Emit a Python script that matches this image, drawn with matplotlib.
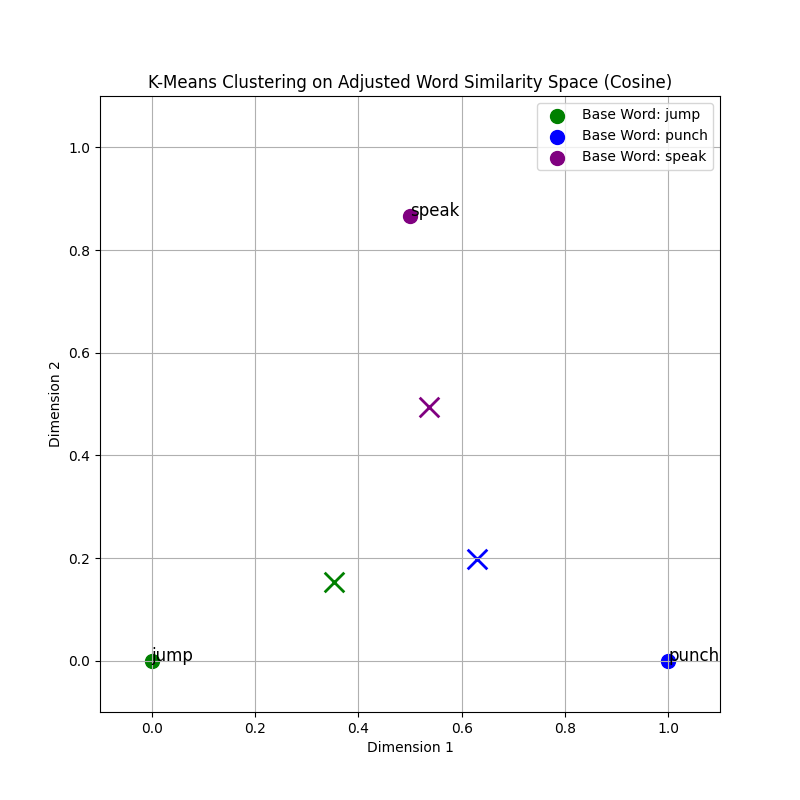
import matplotlib
matplotlib.use("Agg")
import matplotlib.pyplot as plt

words = ["jump", "punch", "speak"]
word_x = [0.0, 1.0, 0.5]
word_y = [0.0, 0.0, 0.866]
colors = ["green", "blue", "purple"]
centroid_x = [0.3535, 0.630, 0.537]
centroid_y = [0.153, 0.198, 0.495]

fig, ax = plt.subplots(figsize=(8, 8), dpi=100)
for w, x, y, c in zip(words, word_x, word_y, colors):
    ax.scatter(x, y, color=c, s=100, label=f"Base Word: {w}")
    ax.text(x, y, w, fontsize=12)
for x, y, c in zip(centroid_x, centroid_y, colors):
    ax.scatter(x, y, color=c, marker="x", s=200, linewidths=2)

ax.set_xlim(-0.1, 1.1)
ax.set_ylim(-0.1, 1.1)
ax.set_title("K-Means Clustering on Adjusted Word Similarity Space (Cosine)")
ax.set_xlabel("Dimension 1")
ax.set_ylabel("Dimension 2")
ax.legend(loc="upper right")
ax.grid(True)
fig.savefig("out.png")
